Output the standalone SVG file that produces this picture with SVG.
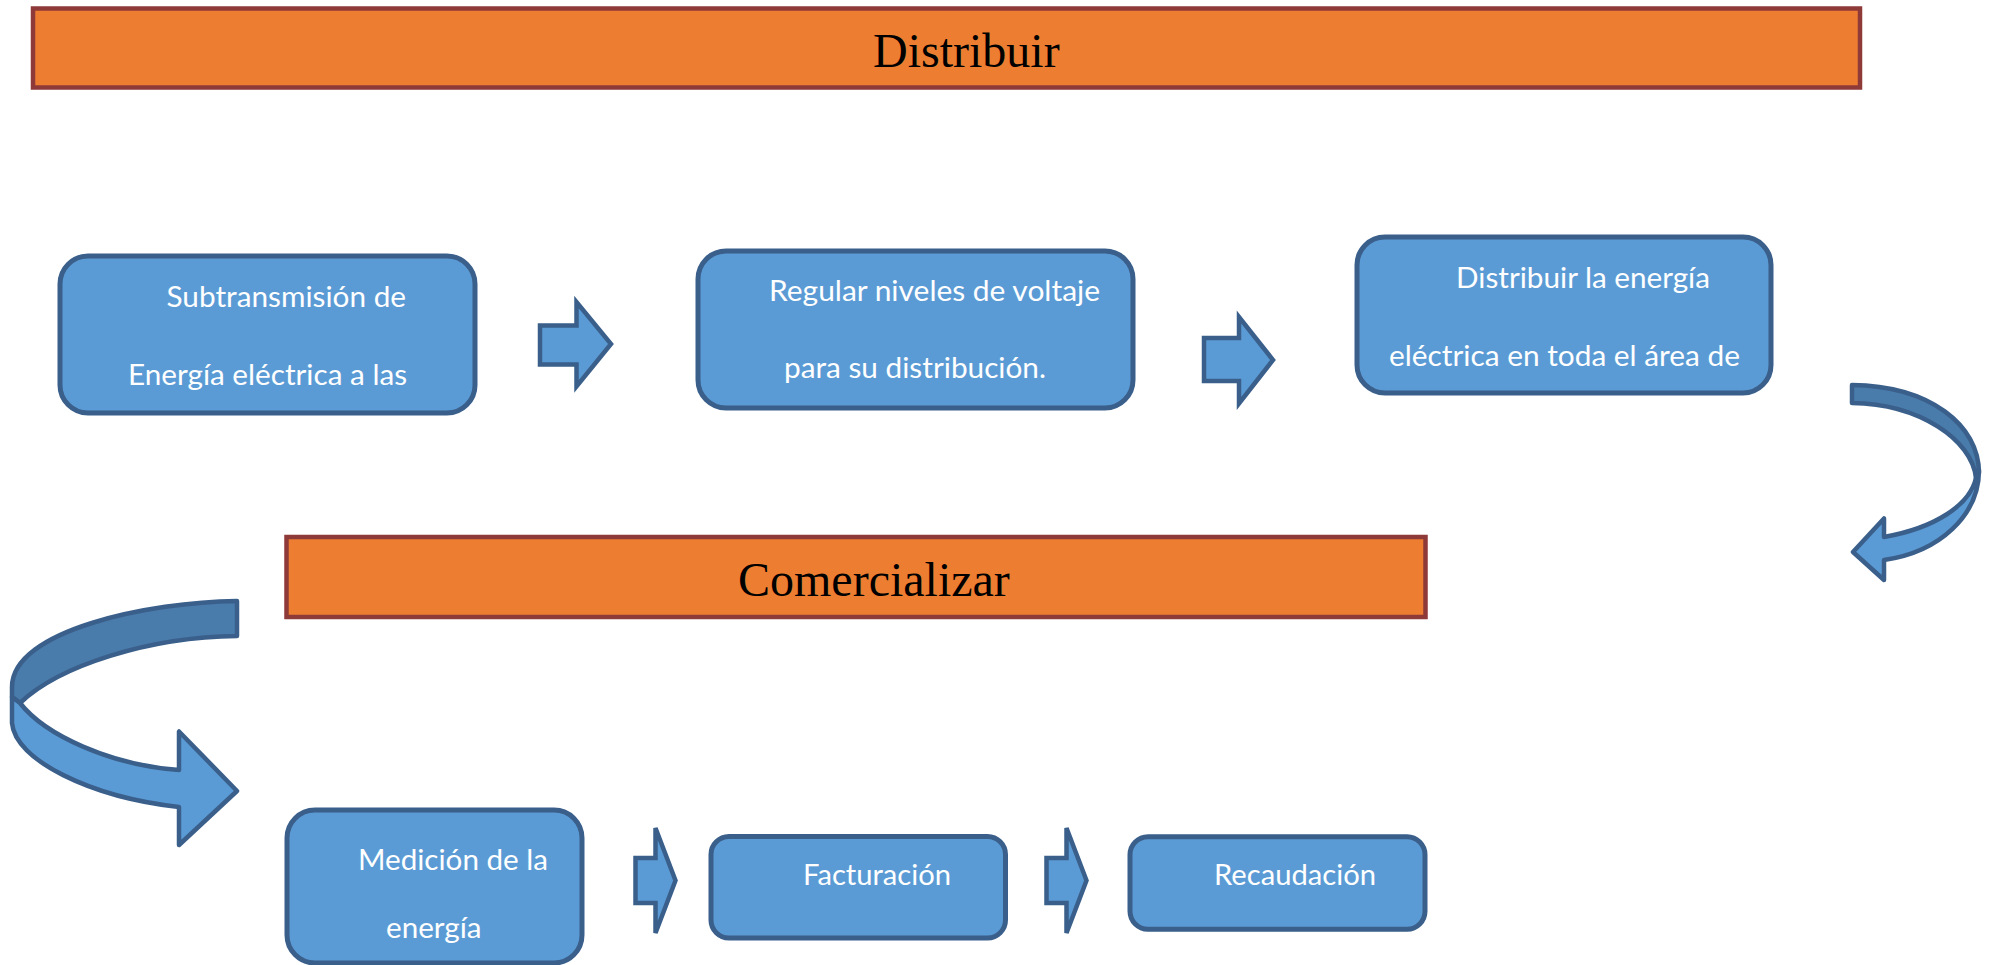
<svg xmlns="http://www.w3.org/2000/svg" width="1989" height="965" viewBox="0 0 1989 965">
<style>
.banner{fill:#ED7D31;stroke:#8E3A38;stroke-width:4.5}
.btxt{font-family:"Liberation Serif","Times New Roman",serif;font-size:48px;fill:#000}
.box{fill:#5B9BD5;stroke:#3A5F8B;stroke-width:5}
.txt{font-family:Lato,"Open Sans",sans-serif;font-size:29px;fill:#fff}
.arr{fill:#5B9BD5;stroke:#3A5F8B;stroke-width:4.5;stroke-linejoin:miter}
.back{fill:#497BAB;stroke:#3A5F8B;stroke-width:4.5;stroke-linejoin:round}
.front{fill:#5B9BD5;stroke:#3A5F8B;stroke-width:4.5;stroke-linejoin:round}
</style>
<rect width="1989" height="965" fill="#fff"/>
<g id="banner-distribuir">
<rect class="banner" x="33" y="8.5" width="1827" height="79"/>
<text class="btxt" x="873" y="66.7">Distribuir</text>
</g>
<g id="banner-comercializar">
<rect class="banner" x="286.5" y="537" width="1139" height="80"/>
<text class="btxt" x="738" y="595.5">Comercializar</text>
</g>
<g id="node-subtransmision">
<rect class="box" x="60" y="256" width="415" height="157" rx="28"/>
<text class="txt" x="166.5" y="307" textLength="239.5" lengthAdjust="spacingAndGlyphs">Subtransmisión de</text>
<text class="txt" x="128" y="385" textLength="279" lengthAdjust="spacingAndGlyphs">Energía eléctrica a las</text>
</g>
<g id="node-regular">
<rect class="box" x="698" y="251" width="435" height="157" rx="28"/>
<text class="txt" x="769" y="301" textLength="331" lengthAdjust="spacingAndGlyphs">Regular niveles de voltaje</text>
<text class="txt" x="784" y="378" textLength="262" lengthAdjust="spacingAndGlyphs">para su distribución.</text>
</g>
<g id="node-distribuir">
<rect class="box" x="1357" y="237" width="414" height="156" rx="28"/>
<text class="txt" x="1456" y="288" textLength="254" lengthAdjust="spacingAndGlyphs">Distribuir la energía</text>
<text class="txt" x="1389" y="366" textLength="351" lengthAdjust="spacingAndGlyphs">eléctrica en toda el área de</text>
</g>
<g id="node-medicion">
<rect class="box" x="287" y="810" width="295" height="153" rx="28"/>
<text class="txt" x="358" y="870" textLength="190" lengthAdjust="spacingAndGlyphs">Medición de la</text>
<text class="txt" x="386" y="938" textLength="95.5" lengthAdjust="spacingAndGlyphs">energía</text>
</g>
<g id="node-facturacion">
<rect class="box" x="711" y="836.5" width="294.5" height="101.5" rx="18"/>
<text class="txt" x="803" y="885" textLength="148" lengthAdjust="spacingAndGlyphs">Facturación</text>
</g>
<g id="node-recaudacion">
<rect class="box" x="1130" y="836.7" width="295" height="92.6" rx="18"/>
<text class="txt" x="1214" y="885" textLength="162" lengthAdjust="spacingAndGlyphs">Recaudación</text>
</g>
<g id="connectors">
<path class="arr" d="M540,325.5 L576.5,325.5 L576.5,302 L611,344 L576.5,386.5 L576.5,364.5 L540,364.5 Z"/>
<path class="arr" d="M1204,338 L1239,338 L1239,317 L1273,360 L1239,403.5 L1239,381 L1204,381 Z"/>
<path class="arr" d="M635.5,858 L655.5,858 L655.5,828 L675.5,880.5 L655.5,933 L655.5,903 L635.5,903 Z"/>
<path class="arr" d="M1046.5,858 L1066.5,858 L1066.5,828 L1086.5,880.5 L1066.5,933 L1066.5,903 L1046.5,903 Z"/>
<g id="curved-right">
<path class="back" d="M1852,385 C1930,386 1979,425 1979,473 L1976,478 C1972,440 1920,404 1852,403 Z"/>
<path class="front" d="M1979,470 C1979,515 1940,552 1884,560 L1884,580 L1853,552 L1884,518.5 L1884,537 C1935,528 1970,505 1976,478 Z"/>
</g>
<g id="curved-left">
<path class="back" d="M237,601 C150,602 12,630 12,687 L12,697 L20,703 C60,665 150,637 237,636 Z"/>
<path class="front" d="M20,703 L12,697 L12,723 C15,760 90,797 179,807 L179,845 L237,791 L179,731.5 L179,770 C110,765 45,735 20,703 Z"/>
</g>
</g>
</svg>
